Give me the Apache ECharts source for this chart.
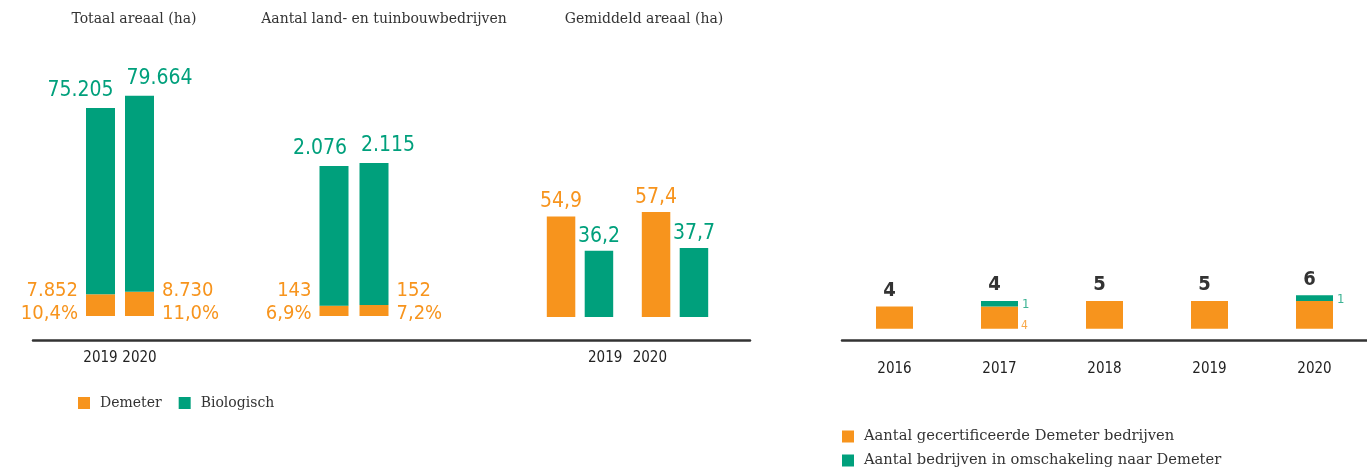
<!DOCTYPE html>
<html>
<head>
<meta charset="utf-8">
<title>Demeter in Nederland</title>
<script src="https://cdn.jsdelivr.net/npm/echarts@6/dist/echarts.min.js"></script>
<style>
  html, body { margin: 0; padding: 0; background: #fff; }
  #main { width: 1367px; height: 467px; }
</style>
</head>
<body>
<div id="main"></div>
<script>
// jaren
var jaren = ['2019', '2020'];
var jarenReeks = ['2016', '2017', '2018', '2019', '2020'];

// totaal areaal (ha)
var areaalDemeter = [7852, 8730];
var areaalBio = [75205, 79664];

// aantal land- en tuinbouwbedrijven
var bedrijvenDemeter = [143, 152];
var bedrijvenBio = [2076, 2115];

// gemiddeld areaal (ha)
var gemDemeter = [54.9, 57.4];
var gemBio = [36.2, 37.7];

// demeter bedrijven per jaar
var gecertificeerd = [4, 4, 5, 5, 5];
var omschakeling = [0, 1, 0, 0, 1];
var totaalBoven = ['4', '4', '5', '5', '6'];
var notaGecert = ['', '4', '', '', ''];

var ORANJE = '#F7941D';
var GROEN = '#00A07C';
var DONKER = '#333333';
var cijferFont = '"DejaVu Sans Condensed", "Liberation Sans Narrow", Roboto, sans-serif';
var serifFont = '"DejaVu Serif", "Liberation Serif", serif';

// nederlandse notatie: 75.205 en 10,4
function nl(n, dec) {
    var delen = n.toFixed(dec || 0).split('.');
    delen[0] = delen[0].replace(/\B(?=(\d{3})+(?!\d))/g, '.');
    return delen.join(',');
}

// gestapelde staven: demeter onderin, rest van biologisch erboven
function stapel(demeter, bio, as, stack) {
    var onder = demeter.map(function (v, i) {
        var links = i === 0;
        return {
            value: v,
            label: {
                position: links ? ['0%', '100%'] : ['100%', '100%'],
                align: links ? 'right' : 'left',
                verticalAlign: 'bottom',
                offset: [links ? -8 : 8, 9]
            }
        };
    });
    var boven = bio.map(function (v, i) {
        var links = i === 0;
        return {
            value: v - demeter[i],
            label: {
                position: 'top',
                align: links ? 'right' : 'left',
                offset: [links ? 13 : -13, 0]
            }
        };
    });
    return [{
        name: 'Demeter',
        type: 'bar',
        xAxisIndex: as, yAxisIndex: as,
        stack: stack,
        barWidth: 29,
        itemStyle: { color: ORANJE },
        label: {
            show: true,
            fontFamily: cijferFont, fontSize: 20, lineHeight: 23,
            color: ORANJE,
            formatter: function (p) {
                var i = p.dataIndex;
                return nl(demeter[i]) + '\n' + nl(demeter[i] / bio[i] * 100, 1) + '%';
            }
        },
        data: onder
    }, {
        name: 'Biologisch',
        type: 'bar',
        xAxisIndex: as, yAxisIndex: as,
        stack: stack,
        barWidth: 29,
        itemStyle: { color: GROEN },
        label: {
            show: true,
            distance: 7,
            fontFamily: cijferFont, fontSize: 21,
            color: GROEN,
            formatter: function (p) { return nl(bio[p.dataIndex]); }
        },
        data: boven
    }];
}

var myChart = echarts.init(document.getElementById('main'));

var verborgenY = function (idx, max, min) {
    return { gridIndex: idx, type: 'value', min: min || 0, max: max, show: false };
};

var legendaTekst = function (size) {
    return { fontFamily: serifFont, fontSize: size, color: DONKER, padding: [0, 0, 0, 5] };
};

var option = {
    animation: false,
    title: [
        { text: 'Totaal areaal (ha)', left: 134, top: 12, textAlign: 'center' },
        { text: 'Aantal land- en tuinbouwbedrijven', left: 384, top: 12, textAlign: 'center' },
        { text: 'Gemiddeld areaal (ha)', left: 644, top: 12, textAlign: 'center' }
    ].map(function (t) {
        t.padding = 0;
        t.textStyle = { fontFamily: serifFont, fontSize: 14, fontWeight: 'normal', color: DONKER };
        return t;
    }),
    legend: [{
        data: ['Demeter', 'Biologisch'],
        left: 78, top: 396, padding: 0,
        icon: 'rect', itemWidth: 12, itemHeight: 12, itemGap: 17,
        selectedMode: false,
        textStyle: legendaTekst(14)
    }, {
        data: ['Aantal gecertificeerde Demeter bedrijven'],
        left: 842, top: 429, padding: 0,
        icon: 'rect', itemWidth: 12, itemHeight: 12,
        selectedMode: false,
        textStyle: legendaTekst(14.7)
    }, {
        data: ['Aantal bedrijven in omschakeling naar Demeter'],
        left: 842, top: 453, padding: 0,
        icon: 'rect', itemWidth: 12, itemHeight: 12,
        selectedMode: false,
        textStyle: legendaTekst(14.7)
    }],
    grid: [
        { left: 81, width: 78, top: 39.4, height: 276.6 },     // totaal areaal
        { left: 314, width: 80, top: 99.1, height: 216.9 },    // aantal bedrijven
        { left: 532.5, width: 190, top: 170.6, height: 146.4 },// gemiddeld areaal
        { left: 33, width: 717, top: 300, height: 40 },        // lijn onder linker deel
        { left: 842, width: 551, top: 273, height: 67 }        // demeter per jaar
    ],
    xAxis: [{
        gridIndex: 0, type: 'category', data: jaren,
        axisLine: { show: false }, axisTick: { show: false },
        axisLabel: { interval: 0, margin: 35, fontFamily: cijferFont, fontSize: 15, color: '#222' }
    }, {
        gridIndex: 1, type: 'category', data: jaren,
        axisLine: { show: false }, axisTick: { show: false }, axisLabel: { show: false }
    }, {
        gridIndex: 2, type: 'category',
        data: [
            { value: jaren[0], textStyle: { align: 'left', padding: [0, 0, 0, 8] } },
            { value: jaren[1], textStyle: { align: 'right', padding: [0, 8, 0, 0] } }
        ],
        axisLine: { show: false }, axisTick: { show: false },
        axisLabel: { interval: 0, margin: 34, fontFamily: cijferFont, fontSize: 15, color: '#222' }
    }, {
        gridIndex: 3, type: 'category', data: [''],
        axisLine: { lineStyle: { color: DONKER, width: 2.5 } },
        axisTick: { show: false }, axisLabel: { show: false }
    }, {
        gridIndex: 4, type: 'category', data: jarenReeks,
        axisLine: { onZero: false, lineStyle: { color: DONKER, width: 2.5 } },
        axisTick: { show: false },
        axisLabel: { interval: 0, margin: 22, fontFamily: cijferFont, fontSize: 15, color: '#222' }
    }],
    yAxis: [
        verborgenY(0, 100000),
        verborgenY(1, 3000),
        verborgenY(2, 80),
        verborgenY(3, 1),
        verborgenY(4, 10, -2)
    ],
    series: [].concat(
        stapel(areaalDemeter, areaalBio, 0, 'areaal'),
        stapel(bedrijvenDemeter, bedrijvenBio, 1, 'bedrijven'),
        [{
            name: 'Demeter',
            type: 'bar',
            xAxisIndex: 2, yAxisIndex: 2,
            barWidth: 28.5, barGap: '33%',
            itemStyle: { color: ORANJE },
            label: {
                show: true, position: 'top', distance: 4,
                fontFamily: cijferFont, fontSize: 21, color: ORANJE,
                formatter: function (p) { return nl(p.value, 1); }
            },
            data: gemDemeter
        }, {
            name: 'Biologisch',
            type: 'bar',
            xAxisIndex: 2, yAxisIndex: 2,
            barWidth: 28.5, barGap: '33%',
            itemStyle: { color: GROEN },
            label: {
                show: true, position: 'top', distance: 4,
                fontFamily: cijferFont, fontSize: 21, color: GROEN,
                formatter: function (p) { return nl(p.value, 1); }
            },
            data: gemBio
        }, {
            name: 'Aantal gecertificeerde Demeter bedrijven',
            type: 'bar',
            xAxisIndex: 4, yAxisIndex: 4,
            stack: 'jaar', barWidth: 37,
            itemStyle: { color: ORANJE },
            label: {
                show: true, position: 'right', distance: 3, offset: [0, 8],
                fontFamily: cijferFont, fontSize: 12, color: '#F8A848',
                formatter: function (p) { return notaGecert[p.dataIndex]; }
            },
            data: gecertificeerd
        }, {
            name: 'Aantal bedrijven in omschakeling naar Demeter',
            type: 'bar',
            xAxisIndex: 4, yAxisIndex: 4,
            stack: 'jaar', barWidth: 37,
            itemStyle: { color: GROEN },
            label: {
                show: true, position: 'right', distance: 4, offset: [0, 1],
                fontFamily: cijferFont, fontSize: 13, color: '#3DB394',
                formatter: function (p) { return p.value > 0 ? String(p.value) : ''; }
            },
            data: omschakeling
        }, {
            // alleen voor de totalen boven de staaf
            name: 'totaal',
            type: 'bar',
            xAxisIndex: 4, yAxisIndex: 4,
            stack: 'jaar', barWidth: 37,
            silent: true,
            itemStyle: { color: 'rgba(0,0,0,0)' },
            label: {
                show: true, position: 'top', distance: 6, offset: [-5, 0],
                fontFamily: cijferFont, fontSize: 20, fontWeight: 'bold', color: DONKER,
                formatter: function (p) { return totaalBoven[p.dataIndex]; }
            },
            data: omschakeling.map(function () { return 0; })
        }]
    )
};

myChart.setOption(option);
</script>
</body>
</html>
